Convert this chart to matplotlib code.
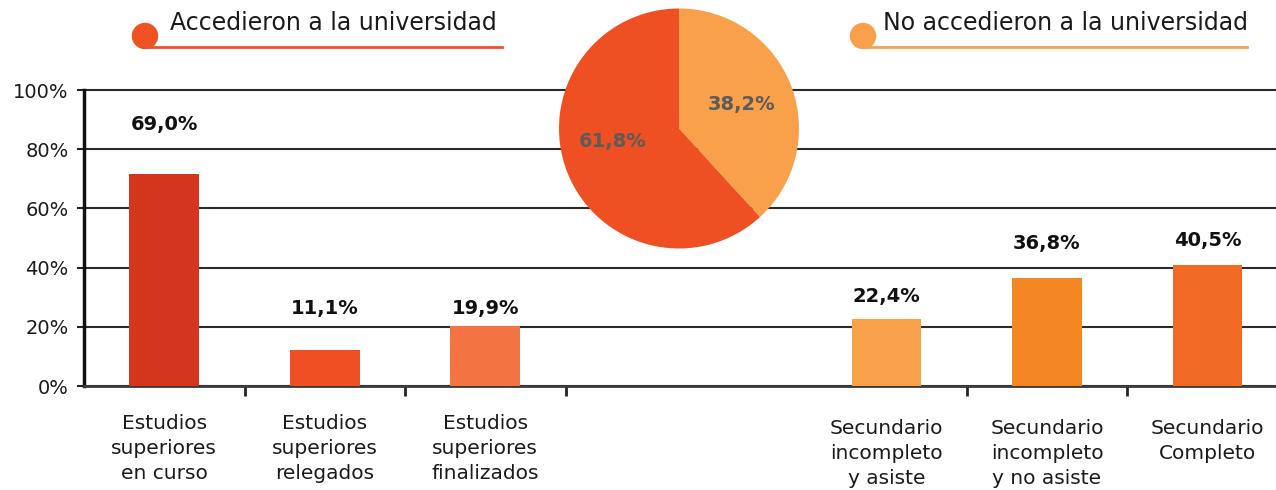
import numpy as np
import matplotlib
matplotlib.use("Agg")
import matplotlib.pyplot as plt
from matplotlib.patches import Circle
from matplotlib.lines import Line2D

plt.rcParams['font.family'] = ['DejaVu Sans']

# data
categories = ["Estudios\nsuperiores\nen curso",
              "Estudios\nsuperiores\nrelegados",
              "Estudios\nsuperiores\nfinalizados",
              "Secundario\nincompleto\ny asiste",
              "Secundario\nincompleto\ny no asiste",
              "Secundario\nCompleto"]
bar_values = [71.5, 12.1, 20.2, 22.6, 36.4, 40.8]
bar_labels = ["69,0%", "11,1%", "19,9%", "22,4%", "36,8%", "40,5%"]
label_heights = [88.5, 26.3, 26.3, 30.3, 48.3, 49.0]
bar_colors = ["#D4351F", "#EF4F23", "#F37342", "#F9A04B", "#F48623", "#F26B24"]

pie_values = [38.2, 61.8]
pie_labels = ["38,2%", "61,8%"]
pie_colors = ["#F9A04B", "#EF5023"]

group_names = ["Accedieron a la universidad", "No accedieron a la universidad"]
group_colors = ["#F05123", "#F9A04B"]

yticks = [0, 20, 40, 60, 80, 100]

W, H = 1276, 490
fig = plt.figure(figsize=(W / 100, H / 100), dpi=100)

# bar axes
ax = fig.add_axes([84 / W, (H - 386) / H, 1 - 84 / W, (386 - 90) / H])
xpos = [0, 1, 2, 4.5, 5.5, 6.5]
ax.bar(xpos, bar_values, width=0.436, color=bar_colors, zorder=3)
for x, lab, ly in zip(xpos, bar_labels, label_heights):
    ax.text(x, ly, lab, ha='center', va='center', fontsize=14,
            fontweight='bold', color='#111111')

ax.set_xlim(-0.5, (W - 84) / 160.5 - 0.5)
ax.set_ylim(0, 100)
ax.set_yticks(yticks)
ax.set_yticklabels([f"{v}%" for v in yticks], fontsize=14, color='#1a1a1a')
ax.yaxis.grid(True, color='#2a2a2a', linewidth=1.5)
for gl in ax.get_ygridlines():
    gl.set_clip_on(False)
ax.set_axisbelow(True)
ax.tick_params(axis='y', length=5, width=1.5, pad=6, color='#222222')

ax.set_xticks([0.5, 1.5, 2.5, 5.0, 6.0])
ax.set_xticklabels([])
ax.tick_params(axis='x', length=7, width=2, color='#222222')

for s in ['top', 'right']:
    ax.spines[s].set_visible(False)
ax.spines['left'].set_linewidth(2.5)
ax.spines['left'].set_color('#111111')
ax.spines['bottom'].set_linewidth(2)
ax.spines['bottom'].set_color('#3a3a3a')

for i, (x, cat) in enumerate(zip(xpos, categories)):
    ytop = -0.095 if i < 3 else -0.113
    ax.text(x, ytop, cat, transform=ax.get_xaxis_transform(), ha='center',
            va='top', fontsize=14.5, linespacing=1.4, color='#1a1a1a')

# pie
pax = fig.add_axes([559 / W, (H - 248.5) / H, 240 / W, 240 / H])
wedges, texts, autotexts = pax.pie(pie_values, colors=pie_colors, startangle=90,
                                   counterclock=False, labels=None,
                                   autopct='%1.1f%%', pctdistance=0.56,
                                   wedgeprops=dict(linewidth=0))
for t, lab in zip(autotexts, pie_labels):
    t.set_text(lab)
    t.set_fontsize(14)
    t.set_fontweight('bold')
    t.set_color('#5b5b5b')
autotexts[1].set_position((-0.55, -0.11))
pax.set_xlim(-1, 1)
pax.set_ylim(-1, 1)
pax.set_aspect('equal')
pax.axis('off')

# group headers
hax = fig.add_axes([0, 0, 1, 1], zorder=-1)
hax.set_xlim(0, W)
hax.set_ylim(H, 0)
hax.axis('off')
headers = [(145, 502, 170), (863, 1247, 883)]
for (x0, x1, tx), name, col in zip(headers, group_names, group_colors):
    hax.add_line(Line2D([x0, x1], [47, 47], color=col, linewidth=2))
    hax.add_patch(Circle((x0, 36), 12.5, color=col))
    hax.text(tx, 23, name, ha='left', va='center', fontsize=17, color='#1a1a1a')

fig.savefig("out.png", dpi=100)
